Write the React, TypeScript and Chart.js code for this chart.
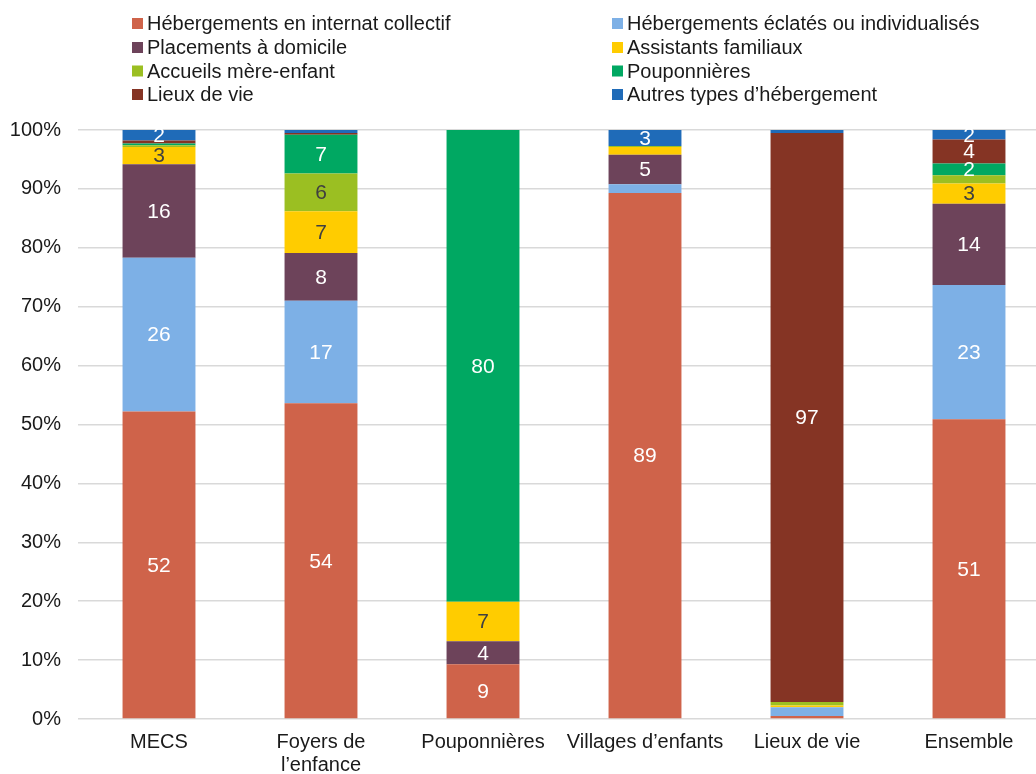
import React, { useEffect, useRef } from "react";
import { Chart, registerables } from "chart.js";

Chart.register(...registerables);

const categories: (string | string[])[] = [
  "MECS",
  ["Foyers de", "l’enfance"],
  "Pouponnières",
  "Villages d’enfants",
  "Lieux de vie",
  "Ensemble",
];

const seriesNames = [
  "Hébergements en internat collectif",
  "Hébergements éclatés ou individualisés",
  "Placements à domicile",
  "Assistants familiaux",
  "Accueils mère-enfant",
  "Pouponnières",
  "Lieux de vie",
  "Autres types d’hébergement",
];

const seriesColors = [
  "#CF634A",
  "#7DB0E6",
  "#6D435A",
  "#FFCC00",
  "#9BBF22",
  "#00A862",
  "#853424",
  "#1F6BB8",
];

const labelColors = [
  "#FFFFFF",
  "#FFFFFF",
  "#FFFFFF",
  "#404040",
  "#404040",
  "#FFFFFF",
  "#FFFFFF",
  "#FFFFFF",
];

const internat = [52.2, 53.6, 9.3, 89.3, 0.5, 50.9];
const eclates = [26.1, 17.4, 0, 1.5, 1.5, 22.8];
const placements = [15.9, 8.1, 3.9, 5.0, 0, 13.8];
const assistants = [2.9, 7.1, 6.7, 1.3, 0.3, 3.4];
const accueils = [0.3, 6.4, 0, 0.2, 0.6, 1.4];
const pouponnieres = [0.3, 6.6, 80.1, 0, 0, 2.0];
const lieuxDeVie = [0.5, 0.3, 0, 0, 96.6, 4.1];
const autres = [1.8, 0.5, 0, 2.7, 0.5, 1.6];

const seriesValues = [
  internat,
  eclates,
  placements,
  assistants,
  accueils,
  pouponnieres,
  lieuxDeVie,
  autres,
];

const yTicks = [0, 10, 20, 30, 40, 50, 60, 70, 80, 90, 100];

const FONT = "'Liberation Sans', Arial, sans-serif";

const legendPlugin = {
  id: "twoColLegend",
  afterDraw(chart: any) {
    const ctx = chart.ctx;
    ctx.save();
    ctx.font = `20px ${FONT}`;
    ctx.textBaseline = "middle";
    ctx.textAlign = "left";
    const colX = [132, 612];
    const rowY = [23.5, 47.5, 71, 94.5];
    chart.data.datasets.forEach((ds: any, i: number) => {
      const col = i % 2;
      const row = Math.floor(i / 2);
      const x = colX[col];
      const y = rowY[row];
      ctx.fillStyle = ds.backgroundColor;
      ctx.fillRect(x, y - 5.5, 11, 11);
      ctx.fillStyle = "#1a1a1a";
      ctx.fillText(ds.label, x + 15, y + 1);
    });
    ctx.restore();
  },
};

const valueLabelPlugin = {
  id: "valueLabels",
  afterDatasetsDraw(chart: any) {
    const ctx = chart.ctx;
    ctx.save();
    ctx.font = `21px ${FONT}`;
    ctx.textAlign = "center";
    ctx.textBaseline = "middle";
    chart.data.datasets.forEach((ds: any, di: number) => {
      const meta = chart.getDatasetMeta(di);
      meta.data.forEach((bar: any, i: number) => {
        const v = ds.data[i];
        if (v < 1.55) return;
        const yMid = (bar.y + bar.base) / 2;
        ctx.fillStyle = labelColors[di];
        ctx.fillText(String(Math.round(v)), bar.x, yMid + 1);
      });
    });
    ctx.restore();
  },
};

export default function App() {
  const ref = useRef<HTMLCanvasElement | null>(null);

  useEffect(() => {
    if (!ref.current) return;
    const chart = new Chart(ref.current, {
      type: "bar",
      data: {
        labels: categories,
        datasets: seriesNames.map((name, i) => ({
          label: name,
          data: seriesValues[i],
          backgroundColor: seriesColors[i],
          borderWidth: 0,
          barPercentage: 0.45,
          categoryPercentage: 1,
        })),
      },
      options: {
        animation: false,
        responsive: false,
        maintainAspectRatio: false,
        layout: { padding: { top: 130, left: 0, right: 0, bottom: 0 } },
        plugins: {
          legend: { display: false },
          tooltip: { enabled: false },
          title: { display: false },
        },
        scales: {
          x: {
            stacked: true,
            grid: { display: false, drawTicks: false },
            border: { display: false },
            ticks: {
              color: "#1a1a1a",
              font: { family: FONT, size: 20, lineHeight: 1.15 },
              padding: 12,
              maxRotation: 0,
              autoSkip: false,
            },
            afterFit(scale: any) {
              scale.height = 55;
            },
          },
          y: {
            stacked: true,
            min: 0,
            max: 100,
            afterBuildTicks(scale: any) {
              scale.ticks = yTicks.map((v) => ({ value: v }));
            },
            grid: {
              color: "#D9D9D9",
              lineWidth: 1.5,
              drawTicks: false,
            },
            border: { display: false },
            ticks: {
              color: "#1a1a1a",
              font: { family: FONT, size: 20 },
              padding: 17,
              callback: (v: any) => `${v}%`,
            },
            afterFit(scale: any) {
              scale.width = 78;
            },
          },
        },
      },
      plugins: [legendPlugin, valueLabelPlugin],
    });
    return () => chart.destroy();
  }, []);

  return (
    <div
      style={{
        position: "fixed",
        left: 0,
        top: 0,
        width: 1050,
        height: 774,
        background: "#fff",
      }}
    >
      <canvas ref={ref} width={1050} height={774} style={{ display: "block" }} />
    </div>
  );
}
